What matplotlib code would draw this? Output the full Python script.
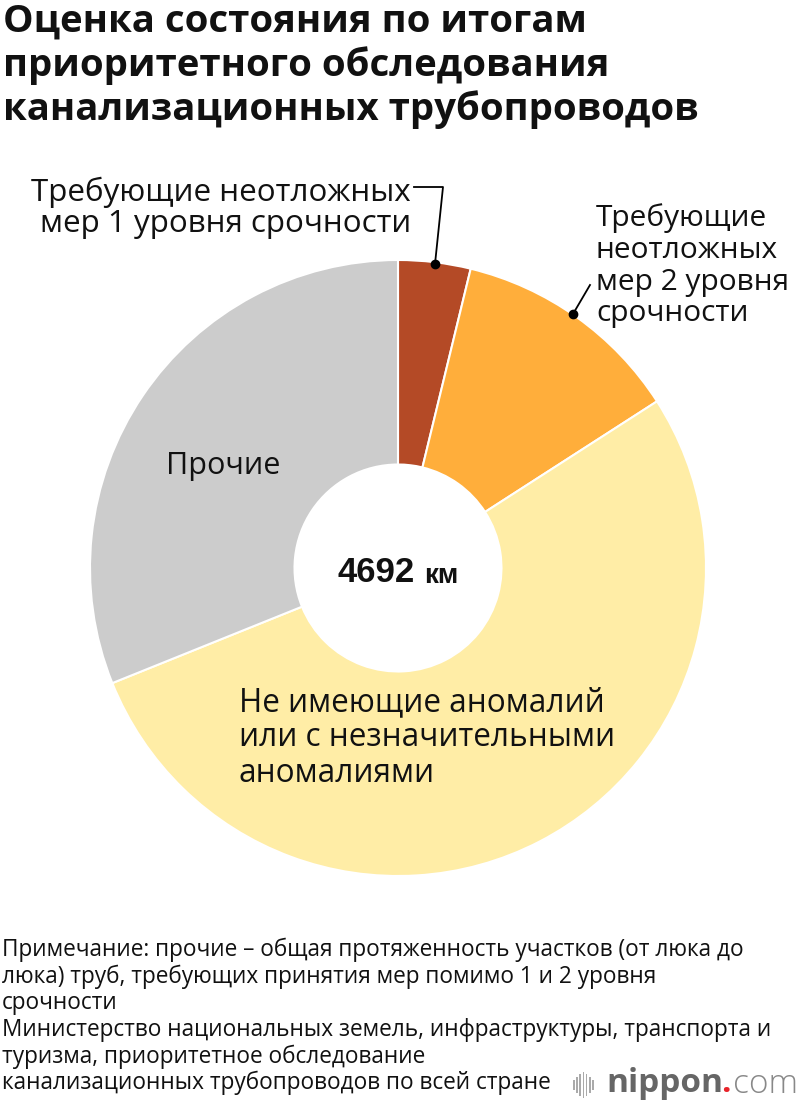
import matplotlib
matplotlib.use("Agg")
import matplotlib.pyplot as plt
from matplotlib.patches import Rectangle

plt.rcParams['font.family'] = ['Open Sans', 'DejaVu Sans']

# ---- data ----
categories = ["Требующие неотложных\nмер 1 уровня срочности",
              "Требующие\nнеотложных\nмер 2 уровня\nсрочности",
              "Не имеющие аномалий\nили с незначительными\nаномалиями",
              "Прочие"]
values_km = [178, 568, 2487, 1459]
colors = ["#B44A26", "#FFAE3B", "#FFEDA6", "#CCCCCC"]
total_label = "4692"
title = "Оценка состояния по итогам\nприоритетного обследования\nканализационных трубопроводов"
note_lines = ["Примечание: прочие – общая протяженность участков (от люка до",
              "люка) труб, требующих принятия мер помимо 1 и 2 уровня",
              "срочности",
              "Министерство национальных земель, инфраструктуры, транспорта и",
              "туризма, приоритетное обследование",
              "канализационных трубопроводов по всей стране"]

W, H = 800, 1110
fig = plt.figure(figsize=(W / 100, H / 100), dpi=100)

def fx(x):
    return x / W

def fy(y):
    return 1 - y / H

# title
for i, line in enumerate(title.split("\n")):
    fig.text(fx(3), fy(22 + i * 44), line, fontsize=27.6, fontweight='bold',
             va='center', ha='left', color='#111111')

# donut
cx, cy, R = 398, 568, 308
ax = fig.add_axes([fx(cx - R), fy(cy + R), 2 * R / W, 2 * R / H])
ax.pie(values_km, colors=colors, startangle=90, counterclock=False, radius=1,
       wedgeprops=dict(width=0.664, edgecolor='white', linewidth=1.5))
ax.set_xlim(-1, 1)
ax.set_ylim(-1, 1)
ax.set_aspect('equal')
ax.axis('off')

# center label
fig.text(fx(415), fy(572), total_label, fontsize=25, fontweight='bold',
         family='Liberation Sans', ha='right', va='center', color='#111111')
fig.text(fx(424), fy(576), "км", fontsize=20, fontweight='bold',
         family='Liberation Sans', ha='left', va='center', color='#111111')

def block(x, y0, text, size, step, ha):
    for i, line in enumerate(text.split("\n")):
        fig.text(fx(x), fy(y0 + i * step), line, fontsize=size, ha=ha, va='center',
                 color='#111111')

# label 1
block(411, 192, categories[0], 22.6, 32, 'right')
fig.add_artist(plt.Line2D([fx(414), fx(443), fx(435)], [fy(187), fy(187), fy(264)],
                          color='black', lw=1.3))
fig.add_artist(plt.Line2D([fx(435)], [fy(264)], marker='o', ms=6, color='black'))

# label 2
block(596, 218, categories[1], 21.5, 32, 'left')
fig.add_artist(plt.Line2D([fx(590), fx(573)], [fy(285), fy(314)], color='black', lw=1.3))
fig.add_artist(plt.Line2D([fx(573)], [fy(314)], marker='o', ms=6, color='black'))

# others
block(223, 466, categories[3], 22, 32, 'center')

# big yellow
block(239, 703, categories[2], 22.7, 35, 'left')

# notes
for i, line in enumerate(note_lines):
    fig.text(fx(2), fy(950 + i * 26.6), line, fontsize=16.3, ha='left', va='center',
             color='#111111')

# logo
for i, h in enumerate([10, 16, 22, 26, 22, 16, 10]):
    fig.add_artist(Rectangle((fx(573 + i * 3.2), fy(1085 + h / 2)), 1.6 / W, h / H,
                             transform=fig.transFigure, color='#aaaaaa', lw=0))
fig.text(fx(606), fy(1084), "nippon", fontsize=24, fontweight='bold', color='#666666',
         ha='left', va='center')
fig.text(fx(721), fy(1084), ".", fontsize=24, fontweight='bold', color='#e8232a',
         ha='left', va='center')
fig.text(fx(733), fy(1084), "com", fontsize=24, color='#888888', ha='left', va='center',
         fontweight='light')

fig.savefig("out.png", dpi=100)
